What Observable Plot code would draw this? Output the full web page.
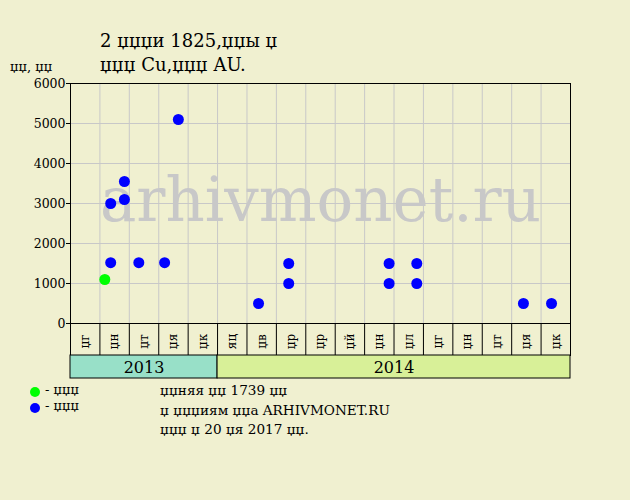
<!DOCTYPE html>
<html>
<head>
<meta charset="utf-8">
<script src="https://cdn.jsdelivr.net/npm/d3@7"></script>
<script src="https://cdn.jsdelivr.net/npm/@observablehq/plot@0.6"></script>
<style>
  html, body { margin: 0; padding: 0; background: #f0f0d0; }
  #wrap { position: relative; width: 630px; height: 500px; background: #f0f0d0; font-family: "DejaVu Serif", serif; color: #000; overflow: hidden; }
  .abs { position: absolute; white-space: nowrap; }
  .abs svg { display: block; }
  .t1 { font-size: 18px; }
  .note { font-size: 13px; }
  .note2 { font-size: 13.6px; }
  .dot { position: absolute; width: 10px; height: 10px; border-radius: 50%; }
</style>
</head>
<body>
<div id="wrap"></div>
<script>
// ---- data ----
const titleLines = ["2 џџџи 1825,џџы џ", "џџџ Cu,џџџ AU."];
const yUnitLabel = "џџ, џџ";
const monthLabels = ["џг","џн","џт","џя","џк","яц","џв","џр","џр","џй","џн","џл","џг","џн","џт","џя","џк"];
const years = ["2013", "2014"];
const yearMonthCounts = [5, 12];
const yearColors = ["#98e0c8", "#d8f098"];
const startMonth = "2013-08-01";
const saleDates = ["2013-09-06","2013-09-12","2013-09-12","2013-09-26","2013-09-26","2013-10-11","2013-11-07","2013-11-21",
                   "2014-02-12","2014-03-14","2014-03-14","2014-06-26","2014-06-26","2014-07-25","2014-07-25","2014-11-13","2014-12-12"];
const salePrices = [1100,1520,3000,3550,3100,1520,1520,5100,500,1500,1000,1500,1000,1500,1000,500,500];
const saleGrades = ["g1","g2","g2","g2","g2","g2","g2","g2","g2","g2","g2","g2","g2","g2","g2","g2","g2"];
const gradeKeys = ["g1", "g2"];
const gradeNames = ["џџџ", "џџџ"];
const gradeColors = ["#00ff00", "#0000ff"];
const yTicks = [0, 1000, 2000, 3000, 4000, 5000, 6000];
const watermark = "arhivmonet.ru";
const notes = ["џџняя џџ 1739 џџ", "џ џџџиям џџа ARHIVMONET.RU", "џџџ џ 20 џя 2017 џџ."];

// ---- helpers ----
const t0 = d3.utcMonth.floor(new Date(startMonth));
function monthPos(s) {
  const d = new Date(s);
  const m0 = d3.utcMonth.floor(d);
  const m1 = d3.utcMonth.offset(m0, 1);
  return d3.utcMonth.count(t0, m0) + (d - m0) / (m1 - m0);
}
const sales = saleDates.map((d, i) => ({x: monthPos(d), price: salePrices[i], grade: saleGrades[i]}));
const nMonths = monthLabels.length;
const boundaries = d3.range(1, nMonths);
const months = monthLabels.map((m, i) => ({i, label: m}));
let acc = 0;
const yearSpans = years.map((y, i) => { const s = {year: y, x1: acc, x2: acc + yearMonthCounts[i], fill: yearColors[i]}; acc += yearMonthCounts[i]; return s; });

const font = {fontFamily: "DejaVu Serif", fontSize: "12px", background: "transparent", color: "#000", overflow: "visible"};
const wrap = document.getElementById("wrap");
function place(node, left, top, cls) {
  const div = document.createElement("div");
  div.className = "abs" + (cls ? " " + cls : "");
  div.style.left = left + "px"; div.style.top = top + "px";
  if (typeof node === "string") div.textContent = node; else div.appendChild(node);
  wrap.appendChild(div);
  return div;
}

// ---- main scatter ----
const main = Plot.plot({
  width: 630, height: 331,
  marginTop: 83, marginBottom: 8, marginLeft: 70, marginRight: 60,
  style: font,
  x: {domain: [0, nMonths], axis: null},
  y: {domain: [0, 6000], axis: null},
  color: {domain: gradeKeys, range: gradeColors},
  marks: [
    Plot.ruleX(boundaries, {stroke: "#c8c8c8", strokeWidth: 1}),
    Plot.ruleY(yTicks.slice(1, -1), {stroke: "#c8c8c8", strokeWidth: 1}),
    Plot.text([watermark], {frameAnchor: "middle", dy: -2, fontSize: 61, fill: "#c8c8c8", fontFamily: "DejaVu Serif"}),
    Plot.dot(sales, {x: "x", y: "price", r: 5.5, fill: "grade", stroke: null}),
    Plot.frame({stroke: "#000", strokeWidth: 1}),
    Plot.axisY({ticks: yTicks, tickSize: 4, tickPadding: 1, fontSize: 12.5, label: null, tickFormat: d => String(d)})
  ]
});
place(main, 0, 0);

// ---- month band ----
const monthBand = Plot.plot({
  width: 630, height: 37,
  marginTop: 5, marginBottom: 0, marginLeft: 70, marginRight: 60,
  style: font,
  x: {domain: [0, nMonths], axis: null},
  y: {domain: [0, 1], axis: null},
  marks: [
    Plot.ruleX(boundaries, {stroke: "#000"}),
    Plot.text(months, {x: d => d.i + 0.5, frameAnchor: "middle", text: "label", rotate: -90, fontSize: 12, dy: 2}),
    Plot.frame({stroke: "#000"})
  ]
});
place(monthBand, 0, 318);

// ---- year band ----
const yearBand = Plot.plot({
  width: 630, height: 33,
  marginTop: 5, marginBottom: 5, marginLeft: 70, marginRight: 60,
  style: font,
  x: {domain: [0, nMonths], axis: null},
  y: {domain: [0, 1], axis: null},
  marks: [
    Plot.rect(yearSpans, {x1: "x1", x2: "x2", y1: 0, y2: 1, fill: "fill", stroke: "#000"}),
    Plot.text(yearSpans, {x: d => (d.x1 + d.x2) / 2, frameAnchor: "middle", text: "year", fontSize: 16, dy: 1})
  ]
});
place(yearBand, 0, 350);

// ---- titles ----
place(titleLines[0], 100, 30, "t1");
place(titleLines[1], 100, 54, "t1");
place(yUnitLabel, 10, 59, "note");

// ---- legend ----
gradeKeys.forEach((k, i) => {
  const d = document.createElement("div");
  d.className = "dot";
  d.style.left = "30px"; d.style.top = (387 + i * 15.5) + "px";
  d.style.background = gradeColors[i];
  wrap.appendChild(d);
  place("- " + gradeNames[i], 45, 382 + i * 15.5, "note");
});

// ---- notes ----
notes.forEach((n, i) => place(n, 160, 382 + i * 19.5, "note2"));
</script>
</body>
</html>
